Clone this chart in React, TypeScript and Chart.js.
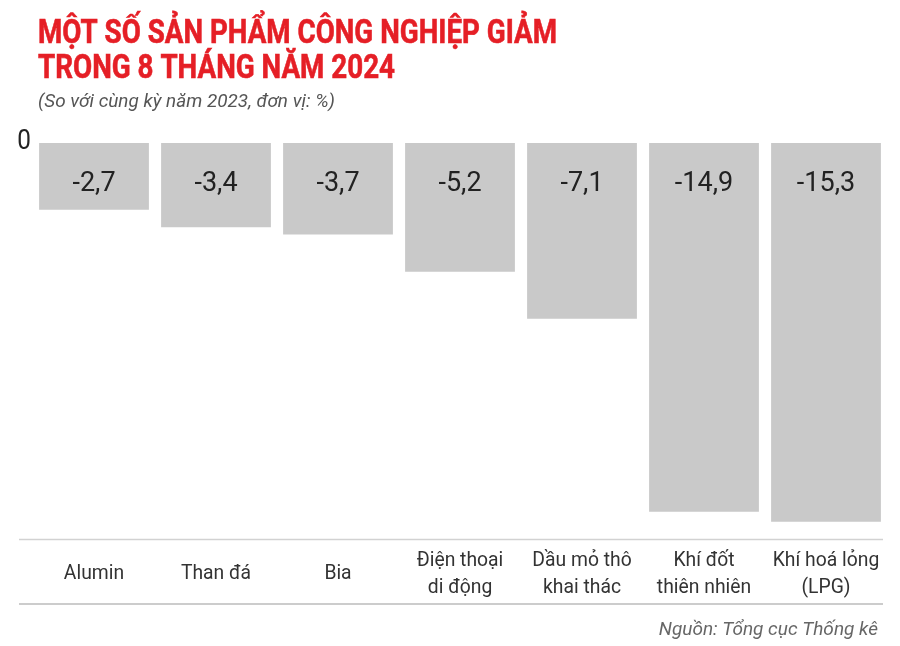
import React, { useEffect, useRef } from "react";
import { Chart, registerables } from "chart.js";

Chart.register(...registerables);

const titleLines = ["MỘT SỐ SẢN PHẨM CÔNG NGHIỆP GIẢM", "TRONG 8 THÁNG NĂM 2024"];
const subtitle = "(So với cùng kỳ năm 2023, đơn vị: %)";
const source = "Nguồn: Tổng cục Thống kê";
const categories: string[][] = [
  ["Alumin"],
  ["Than đá"],
  ["Bia"],
  ["Điện thoại", "di động"],
  ["Dầu mỏ thô", "khai thác"],
  ["Khí đốt", "thiên nhiên"],
  ["Khí hoá lỏng", "(LPG)"],
];
const values = [-2.7, -3.4, -3.7, -5.2, -7.1, -14.9, -15.3];
const yMin = -16;
const yMax = 0;

function fmt(v: number) {
  return v.toFixed(1).replace(".", ",");
}

function fitText(ctx: CanvasRenderingContext2D, text: string, x: number, y: number, squeeze: number) {
  const w = ctx.measureText(text).width;
  ctx.fillText(text, x, y, w * squeeze);
}

const decorPlugin = {
  id: "decor",
  afterDraw(chart: any) {
    const ctx: CanvasRenderingContext2D = chart.ctx;
    const area = chart.chartArea;
    const xs = chart.scales.x;
    const ys = chart.scales.y;
    ctx.save();

    // Title
    ctx.fillStyle = "#e51f26";
    ctx.strokeStyle = "#e51f26";
    ctx.lineWidth = 0.6;
    ctx.textAlign = "left";
    ctx.textBaseline = "alphabetic";
    ctx.font = "bold 33px Roboto";
    ctx.fillText(titleLines[0], 38, 43, 519);
    ctx.strokeText(titleLines[0], 38, 43, 519);
    ctx.fillText(titleLines[1], 38, 78, 357);
    ctx.strokeText(titleLines[1], 38, 78, 357);

    // Subtitle
    ctx.fillStyle = "#555555";
    ctx.font = "italic 19px Roboto";
    ctx.fillText(subtitle, 38, 107, 297);

    // zero label
    const y0 = ys.getPixelForValue(0);
    ctx.fillStyle = "#222222";
    ctx.font = "27px Roboto";
    ctx.textAlign = "center";
    ctx.textBaseline = "middle";
    fitText(ctx, "0", 24, y0 - 1, 0.9);

    // Value labels
    const meta = chart.getDatasetMeta(0);
    ctx.font = "27px Roboto";
    ctx.fillStyle = "#222222";
    meta.data.forEach((bar: any, i: number) => {
      fitText(ctx, fmt(values[i]), bar.x, y0 + 41, 1.0);
    });

    // Lines
    ctx.strokeStyle = "#d2d2d2";
    ctx.lineWidth = 1.5;
    ctx.beginPath();
    ctx.moveTo(19, area.bottom + 0.5);
    ctx.lineTo(883, area.bottom + 0.5);
    ctx.stroke();
    ctx.lineWidth = 2;
    ctx.strokeStyle = "#cccccc";
    ctx.beginPath();
    ctx.moveTo(19, 604);
    ctx.lineTo(883, 604);
    ctx.stroke();

    // Category labels
    ctx.fillStyle = "#333333";
    ctx.font = "21px Roboto";
    ctx.textAlign = "center";
    ctx.textBaseline = "middle";
    const midY = 574;
    const lh = 27;
    categories.forEach((lines, i) => {
      const x = xs.getPixelForValue(i);
      const n = lines.length;
      lines.forEach((ln, j) => {
        const y = midY + (j - (n - 1) / 2) * lh;
        fitText(ctx, ln, x, y, 0.92);
      });
    });

    // Source
    ctx.fillStyle = "#666666";
    ctx.font = "italic 19px Roboto";
    ctx.textAlign = "right";
    ctx.textBaseline = "middle";
    fitText(ctx, source, 878, 630, 1.0);

    ctx.restore();
  },
};

export default function App() {
  const ref = useRef<HTMLCanvasElement | null>(null);
  useEffect(() => {
    if (!ref.current) return;
    const chart = new Chart(ref.current, {
      type: "bar",
      data: {
        labels: categories.map((c) => c.join(" ")),
        datasets: [
          {
            data: values,
            backgroundColor: "#c9c9c9",
            borderWidth: 0,
            categoryPercentage: 0.9,
            barPercentage: 1.0,
          },
        ],
      },
      options: {
        responsive: false,
        animation: false,
        devicePixelRatio: 1,
        layout: { padding: { left: 33, right: 13, top: 143, bottom: 107 } },
        plugins: {
          legend: { display: false },
          tooltip: { enabled: false },
          title: { display: false },
        },
        scales: {
          x: { display: false, grid: { display: false } },
          y: { display: false, min: yMin, max: yMax, grid: { display: false } },
        },
      },
      plugins: [decorPlugin],
    });
    return () => chart.destroy();
  }, []);
  return (
    <div style={{ position: "fixed", left: 0, top: 0, width: 900, height: 646, background: "#ffffff" }}>
      <canvas ref={ref} width={900} height={646} style={{ display: "block" }} />
    </div>
  );
}
